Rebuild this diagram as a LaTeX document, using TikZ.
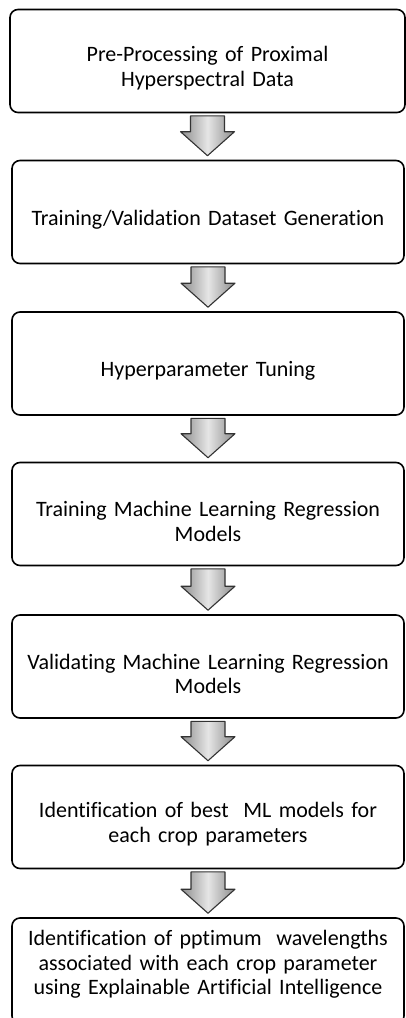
\documentclass[tikz,border=0pt]{standalone}
\usepackage{fontspec}
\setmainfont{Carlito}[Ligatures={NoCommon,NoContextual}, Contextuals=NoAlternate]
\usetikzlibrary{calc}

\begin{document}
\begin{tikzpicture}[
  x=1pt, y=1pt,
  font=\fontsize{22}{24.5}\selectfont,
  box/.style={draw=black, line width=1.6pt, rounded corners=8pt, align=center,
              text width=386pt, minimum width=392pt, minimum height=103pt, inner sep=2pt,
              text height=#1},
  box/.default=30pt,
  flow/.style={draw=black!80, line width=1.1pt, line join=round,
               left color=black!45, right color=black!45, middle color=black!10,
               to path={let \p1=(\tikztostart.south), \p2=(\tikztotarget.north) in
                 (\x1-17pt,\y1-2.5pt) -- (\x1+17pt,\y1-2.5pt) -- (\x1+17pt,\y2+28pt)
                 -- (\x1+27pt,\y2+28pt) -- (\x1,\y2+4pt) -- (\x1-27pt,\y2+28pt)
                 -- (\x1-17pt,\y2+28pt) -- cycle}}]
 \useasboundingbox (0,0) rectangle (405,-1018);
 % processing steps
 \node[box, minimum width=395pt] (pre) at (207.5,-61) {Pre-Processing of Proximal\\Hyperspectral Data};
 \node[box] (gen) at (208,-212) {Training/Validation Dataset Generation};
 \node[box] (tune) at (208,-363.5) {Hyperparameter Tuning};
 \node[box] (train) at (208,-514) {Training Machine Learning Regression\\Models};
 \node[box] (valid) at (208,-666.5) {Validating Machine Learning Regression\\Models};
 \node[box] (best) at (208,-817) {Identification of best\ \ ML models for\\each crop parameters};
 \node[box=2pt, minimum height=106pt] (xai) at (208,-971)
      {Identification of pptimum\ \ wavelengths\\associated with each crop parameter\\using Explainable Artificial Intelligence};
 % block arrows
 \draw[flow] (pre) to (gen);
 \draw[flow] (gen) to (tune);
 \draw[flow] (tune) to (train);
 \draw[flow] (train) to (valid);
 \draw[flow] (valid) to (best);
 \draw[flow] (best) to (xai);
\end{tikzpicture}
\end{document}
